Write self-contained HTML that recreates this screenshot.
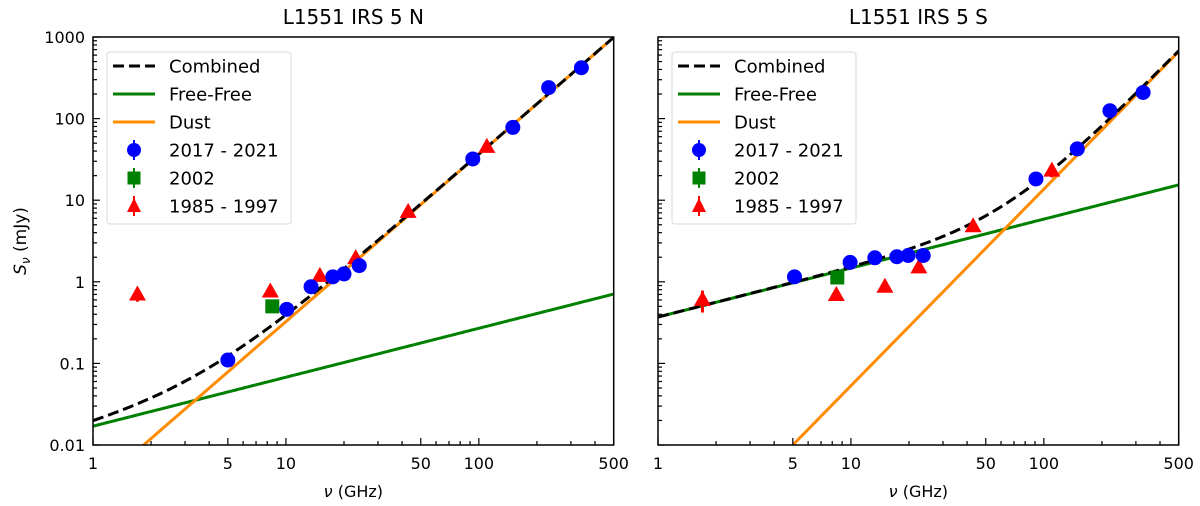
<!DOCTYPE html>
<html><head><meta charset="utf-8"><style>
html,body{margin:0;padding:0;background:#fff;width:1200px;height:506px;overflow:hidden;}
svg{display:block;font-family:"DejaVu Sans","Liberation Sans",sans-serif;}
</style></head><body>
<svg id="chart" width="1200" height="506" viewBox="0 0 1200 506" xmlns="http://www.w3.org/2000/svg"></svg>
<script>
const xTickVals = [1, 5, 10, 50, 100, 500];
const xTickLabels = ["1", "5", "10", "50", "100", "500"];
const yTickVals = [0.01, 0.1, 1, 10, 100, 1000];
const yTickLabels = ["0.01", "0.1", "1", "10", "100", "1000"];
const legendLabels = ["Combined", "Free-Free", "Dust", "2017 - 2021", "2002", "1985 - 1997"];

// Panel N
const nTitle = "L1551 IRS 5 N";
const nBlueFreq = [5, 10.1, 13.5, 17.5, 20, 24, 93, 150, 230, 340];
const nBlueFlux = [0.11, 0.46, 0.87, 1.15, 1.25, 1.58, 32, 78, 240, 420];
const nGreenFreq = [8.5];
const nGreenFlux = [0.5];
const nRedFreq = [1.7, 8.3, 15, 23, 43, 110];
const nRedFlux = [0.7, 0.76, 1.18, 1.95, 7.2, 45];
const nRedErr = [0.13, 0.05, 0.05, 0.1, 0.4, 3];
const nFF = [0.017, 0.6];
const nDust = [0.0029, 2.05];

// Panel S
const sTitle = "L1551 IRS 5 S";
const sBlueFreq = [5.1, 9.9, 13.3, 17.3, 19.8, 23.7, 91, 149, 220, 327];
const sBlueFlux = [1.15, 1.73, 1.97, 2.03, 2.1, 2.1, 18.2, 42.5, 125, 209];
const sGreenFreq = [8.5];
const sGreenFlux = [1.13];
const sRedFreq = [1.7, 8.4, 15, 22.5, 43, 110];
const sRedFlux = [0.6, 0.69, 0.87, 1.5, 4.8, 23];
const sRedErr = [0.18, 0.04, 0.05, 0.1, 0.5, 4];
const sFF = [0.37, 0.6];
const sDust = [0.000207, 2.41];

const NS = "http://www.w3.org/2000/svg";
const svg = document.getElementById('chart');
function mk(tag, attrs, parent){const e=document.createElementNS(NS,tag);for(const k in attrs)e.setAttribute(k,attrs[k]);(parent||svg).appendChild(e);return e;}

const TOP=37, BOT=445, W=520.7;
function panel(x0, title, ff, dust, bF, bS, gF, gS, rF, rS, rE, showY, prefix){
  const xs = f => x0 + Math.log10(f)/Math.log10(500)*W;
  const ys = v => TOP + (3-Math.log10(v))/5*(BOT-TOP);
  const g = mk('g',{});
  
  
  const clipId = prefix+'clip';
  const cp = mk('clipPath',{id:clipId},g); mk('rect',{x:x0,y:TOP,width:W,height:BOT-TOP},cp);
  const t = mk('text',{x:x0+W/2,y:24,'text-anchor':'middle','font-size':20},g); t.textContent=title;
   
  const plot = mk('g',{'clip-path':`url(#${clipId})`},g);
  function curve(fn){let d='';for(let i=0;i<=200;i++){const lf=i/200*Math.log10(500);const f=Math.pow(10,lf);const v=Math.min(5000,Math.max(0.005,fn(f)));d+=(i?'L':'M')+xs(f).toFixed(2)+','+ys(v).toFixed(2);}return d;}
  const ffFn=f=>ff[0]*Math.pow(f,ff[1]), dFn=f=>dust[0]*Math.pow(f,dust[1]);
  let e=mk('path',{d:curve(ffFn),fill:'none',stroke:'#008000','stroke-width':3},plot);
   
  e=mk('path',{d:curve(dFn),fill:'none',stroke:'#ff8c00','stroke-width':3},plot);
   
  e=mk('path',{d:curve(f=>ffFn(f)+dFn(f)),fill:'none',stroke:'#000','stroke-width':3,'stroke-dasharray':'11,5'},plot);
   
  for(let i=0;i<rF.length;i++){
    const cx=xs(rF[i]), cy=ys(rS[i]);
    mk('line',{x1:cx,x2:cx,y1:ys(rS[i]+rE[i]),y2:ys(Math.max(rS[i]-rE[i],0.01)),stroke:'red','stroke-width':3},plot);
    const p=mk('path',{d:`M${cx},${cy-9}L${cx+8.5},${cy+6}L${cx-8.5},${cy+6}Z`,fill:'red'},plot);
     
  }
  for(let i=0;i<gF.length;i++){
    const cx=xs(gF[i]), cy=ys(gS[i]);
    const p=mk('rect',{x:cx-7,y:cy-7,width:14,height:14,fill:'#008000'},plot);
     
  }
  for(let i=0;i<bF.length;i++){
    const p=mk('circle',{cx:xs(bF[i]),cy:ys(bS[i]),r:7.5,fill:'blue'},plot);
     
  }
  for(let d=0; d<3; d++) for(let m=1;m<10;m++){
    const f=Math.pow(10,d)*m; if(f>500) break;
    const x=xs(f), maj=xTickVals.includes(f);
    mk('line',{x1:x,x2:x,y1:BOT,y2:BOT-(maj?7:4),stroke:'#000','stroke-width':1.2},g);
  }
  xTickVals.forEach((v,i)=>{const tt=mk('text',{x:xs(v),y:469,'text-anchor':'middle','font-size':16},g);tt.textContent=xTickLabels[i];
     });
  for(let d=-2; d<3; d++) for(let m=1;m<10;m++){
    const v=Math.pow(10,d)*m; const y=ys(v), maj=(m===1);
    mk('line',{x1:x0,x2:x0+(maj?7:4),y1:y,y2:y,stroke:'#000','stroke-width':1.2},g);
  }
  mk('line',{x1:x0,x2:x0+7,y1:TOP,y2:TOP,stroke:'#000','stroke-width':1.2},g);
  if(showY){
    yTickVals.forEach((v,i)=>{const tt=mk('text',{x:x0-8,y:ys(v)+6,'text-anchor':'end','font-size':16},g);tt.textContent=yTickLabels[i];
       });
  }
  const xl=mk('text',{x:x0+W/2,y:497,'text-anchor':'middle','font-size':16},g);
  xl.innerHTML='<tspan font-style="italic">ν</tspan> (GHz)';
   
  const fr=mk('rect',{x:x0,y:TOP,width:W,height:BOT-TOP,fill:'none',stroke:'#000','stroke-width':1.5},g);
   
  const lx=x0+14, lg=mk('g',{},g);
   
  mk('rect',{x:lx,y:52,width:184,height:172,rx:3,fill:'#fff',stroke:'#d8d8d8','stroke-width':1},lg);
  legendLabels.forEach((lab,i)=>{
    const y=66+i*28, hx=lx+6;
    if(i===0) mk('line',{x1:hx,x2:hx+42,y1:y,y2:y,stroke:'#000','stroke-width':3,'stroke-dasharray':'11,5'},lg);
    if(i===1) mk('line',{x1:hx,x2:hx+42,y1:y,y2:y,stroke:'#008000','stroke-width':3},lg);
    if(i===2) mk('line',{x1:hx,x2:hx+42,y1:y,y2:y,stroke:'#ff8c00','stroke-width':3},lg);
    const c=hx+21;
    if(i===3){mk('line',{x1:c,x2:c,y1:y-10,y2:y+10,stroke:'blue','stroke-width':2},lg);mk('circle',{cx:c,cy:y,r:7,fill:'blue'},lg);}
    if(i===4){mk('line',{x1:c,x2:c,y1:y-10,y2:y+10,stroke:'#008000','stroke-width':2},lg);mk('rect',{x:c-6.5,y:y-6.5,width:13,height:13,fill:'#008000'},lg);}
    if(i===5){mk('line',{x1:c,x2:c,y1:y-10,y2:y+10,stroke:'red','stroke-width':2},lg);mk('path',{d:`M${c},${y-8}L${c+7},${y+6}L${c-7},${y+6}Z`,fill:'red'},lg);}
    const tt=mk('text',{x:lx+62,y:y+6.5,'font-size':18},lg); tt.textContent=lab;
     
  });
}
panel(93, nTitle, nFF, nDust, nBlueFreq, nBlueFlux, nGreenFreq, nGreenFlux, nRedFreq, nRedFlux, nRedErr, true, 'north');
panel(658, sTitle, sFF, sDust, sBlueFreq, sBlueFlux, sGreenFreq, sGreenFlux, sRedFreq, sRedFlux, sRedErr, false, 'south');
const yl=mk('text',{x:0,y:0,'text-anchor':'middle','font-size':17,transform:'translate(26,241) rotate(-90)'});
yl.innerHTML='<tspan font-style="italic">S</tspan><tspan font-style="italic" font-size="12" dy="4">ν</tspan><tspan dy="-4"> (mJy)</tspan>';


</script>
</body></html>
